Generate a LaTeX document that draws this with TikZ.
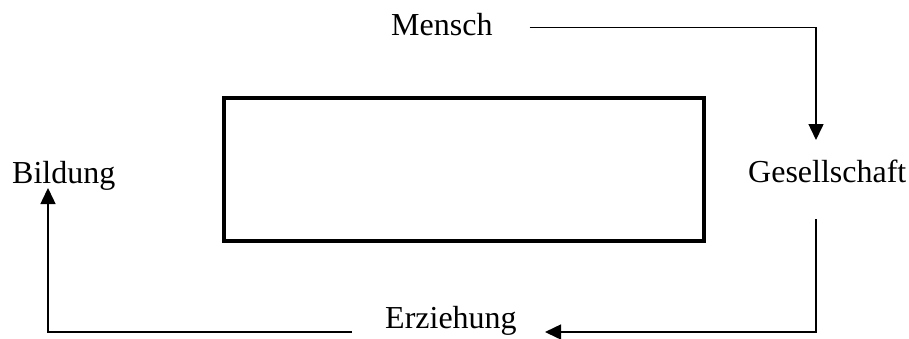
\documentclass[tikz,border=0pt]{standalone}
\usepackage{fontspec}
\setmainfont{Liberation Serif}
\usetikzlibrary{arrows.meta, positioning}

\tikzset{
    word/.style={anchor=base west, inner sep=0pt, font=\fontsize{32}{38}\selectfont},
    frame/.style={rectangle, draw, line width=4pt, minimum width=480pt, minimum height=143pt},
    flow/.style={line width=1.5pt, -{Triangle[length=16pt, width=15pt]}}
}

\begin{document}
\begin{tikzpicture}[x=1pt, y=-1pt]
    \useasboundingbox (0,0) rectangle (909,338);

    % The four terms
    \node[word] (mensch) at (391,35) {Mensch};
    \node[word] (gesell) at (748,182) {Gesellschaft};
    \node[word] (erz) at (385,328) {Erziehung};
    \node[word] (bild) at (12,183) {Bildung};

    % Empty frame in the middle
    \node[frame] (box) at (464,169.5) {};

    % Ends of the arrows
    \coordinate (gIn) at (816,140);
    \coordinate (gOut) at (816,219);
    \coordinate (eIn) at (545,332);
    \coordinate (eOut) at (352,332);
    \coordinate (bIn) at (48,188);

    % Cycle
    \draw[flow] ([xshift=37pt, yshift=5pt]mensch.mid east) -| (gIn);
    \draw[flow] (gOut) |- (eIn);
    \draw[flow] (eOut) -| (bIn);
\end{tikzpicture}
\end{document}
